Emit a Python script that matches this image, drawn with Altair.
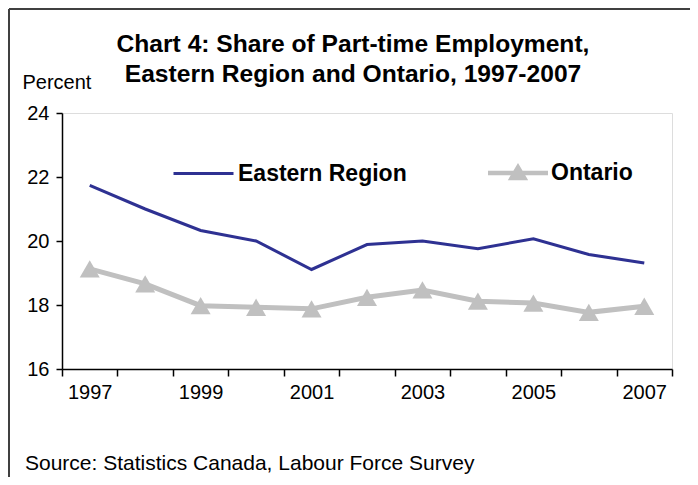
import altair as alt
import pandas as pd

years = [1997, 1998, 1999, 2000, 2001, 2002, 2003, 2004, 2005, 2006, 2007]
eastern = [21.74, 21.0, 20.33, 20.0, 19.11, 19.89, 20.0, 19.76, 20.07, 19.58, 19.31]
ontario = [19.13, 18.66, 17.98, 17.93, 17.88, 18.24, 18.47, 18.12, 18.06, 17.77, 17.96]
series_names = ["Eastern Region", "Ontario"]
series_colors = ["#2E3192", "#C0C0C0"]
label_years = [1997, 1999, 2001, 2003, 2005, 2007]
y_ticks = [16, 18, 20, 22, 24]
title_text = ["Chart 4: Share of Part-time Employment,\nEastern Region and Ontario, 1997-2007"]
y_title = "Percent"
source_text = ["Source: Statistics Canada, Labour Force Survey"]

FONT = "Liberation Sans"

east_df = pd.DataFrame({"year": years, "value": eastern, "series": series_names[0]})
ont_df = pd.DataFrame({"year": years, "value": ontario, "series": series_names[1]})

boundaries = [y - 0.5 for y in years] + [years[-1] + 0.5]
label_list = ",".join(str(v) for v in label_years)
label_expr = f"indexof([{label_list}], datum.value + 0.5) >= 0 ? format(datum.value + 0.5, 'd') : ''"

x_enc = alt.X(
    "year:Q",
    scale=alt.Scale(domain=[years[0] - 0.5, years[-1] + 0.5], nice=False, zero=False),
    axis=alt.Axis(
        title=None, values=boundaries, labelExpr=label_expr, labelOffset=27.7,
        grid=False, tickSize=7, tickWidth=1.5, tickColor="black",
        domainColor="black", domainWidth=1.5, labelFont=FONT, labelFontSize=20,
        labelColor="black", labelPadding=6, labelFlush=False, labelOverlap=False,
    ),
)
y_enc = alt.Y(
    "value:Q",
    scale=alt.Scale(domain=[16, 24], nice=False, zero=False),
    axis=alt.Axis(
        title=y_title, titleAngle=0, titleX=-40, titleY=-25, titleAlign="left",
        titleBaseline="alphabetic", titleFont=FONT, titleFontSize=20,
        titleFontWeight="normal", titleColor="black",
        values=y_ticks, grid=False, tickSize=6, tickWidth=1.5, tickColor="black",
        domainColor="black", domainWidth=1.5, labelFont=FONT, labelFontSize=20,
        labelColor="black", labelPadding=7,
    ),
)

east_shape = "M-1,0L1,0"
ont_shape = "M-1,-0.075L1,-0.075L1,0.075L-1,0.075Z M0,-0.33L0.34,0.24L-0.34,0.24Z"

legend_common = dict(
    title=None, orient="none", direction="horizontal", symbolSize=3600,
    labelFont=FONT, labelFontSize=23, labelFontWeight="bold", labelColor="black",
    symbolOpacity=1, labelLimit=400, legendY=29,
)
legend_east = alt.Legend(
    legendX=110, symbolType=east_shape, labelOffset=3,
    symbolStrokeColor=series_colors[0], symbolStrokeWidth=3, **legend_common,
)
legend_ont = alt.Legend(
    legendX=425, symbolType=ont_shape, labelOffset=2,
    symbolFillColor=series_colors[1], **legend_common,
)

east_line = alt.Chart(east_df).mark_line(strokeWidth=3).encode(
    x=x_enc,
    y=y_enc,
    color=alt.Color("series:N", scale=alt.Scale(domain=[series_names[0]], range=[series_colors[0]]), legend=legend_east),
)

ont_line = alt.Chart(ont_df).mark_line(strokeWidth=5, color=series_colors[1]).encode(
    x="year:Q", y="value:Q",
)

ont_points = alt.Chart(ont_df).mark_point(shape="triangle-up", filled=True, size=400, color=series_colors[1]).encode(
    x="year:Q", y="value:Q",
    opacity=alt.Opacity("series:N", scale=alt.Scale(domain=[series_names[1]], range=[1]), legend=legend_ont),
)

title = alt.Chart(pd.DataFrame({"t": title_text})).mark_text(
    align="center", baseline="alphabetic", font=FONT, fontSize=24.6, fontWeight="bold",
    color="black", lineBreak="\n", lineHeight=30,
).encode(x=alt.value(291), y=alt.value(-61), text="t:N")

src = alt.Chart(pd.DataFrame({"t": source_text})).mark_text(
    align="left", baseline="alphabetic", font=FONT, fontSize=21, color="black"
).encode(x=alt.value(-37), y=alt.value(357), text="t:N")

border_df = pd.DataFrame({"a": [0]})
left_border = alt.Chart(border_df).mark_rule(color="#404040", strokeWidth=2).encode(
    x=alt.value(-53), y=alt.value(-104), y2=alt.value(400)
)
top_border = alt.Chart(border_df).mark_rule(color="#404040", strokeWidth=2).encode(
    x=alt.value(-53), x2=alt.value(700), y=alt.value(-104)
)

chart = alt.layer(left_border, top_border, east_line, ont_line, ont_points, title, src).properties(
    width=610, height=256,
    autosize=alt.AutoSizeParams(type="none"),
    padding={"left": 54, "top": 105, "right": 18, "bottom": 108},
).configure_view(stroke=None).configure(background="white")

chart.save("out.html", embed_options={"renderer": "svg", "actions": False})
